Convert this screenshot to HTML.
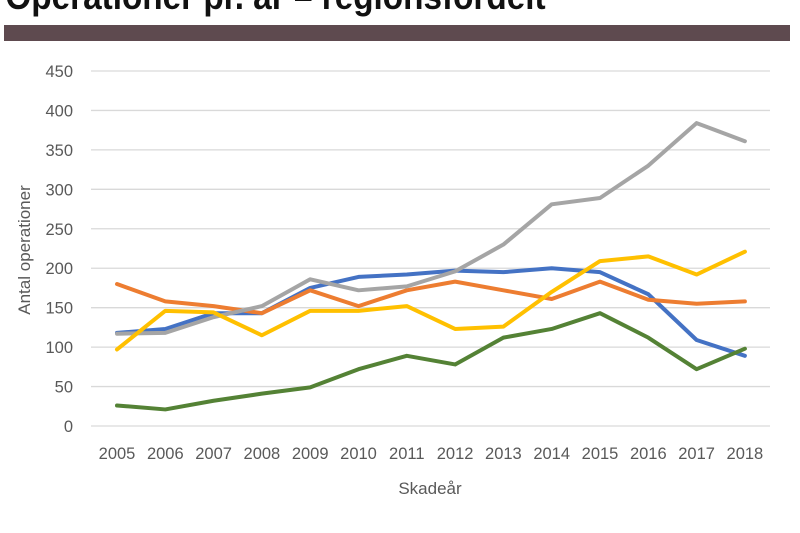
<!DOCTYPE html>
<html><head><meta charset="utf-8"><style>
body{margin:0;background:#fff;}
svg{display:block;font-family:"Liberation Sans",sans-serif;}
</style></head><body>
<svg id="s" width="800" height="533" viewBox="0 0 800 533">
<text x="6" y="9" font-size="37" font-weight="bold" fill="#111" transform="scale(0.9,1)" style="font-family:'Liberation Sans Narrow','Liberation Sans',sans-serif">Operationer pr. år – regionsfordelt</text>
<rect x="4" y="25" width="786" height="16" fill="#5e4a4f"/>
<g id="g"></g>
<text x="430" y="494" font-size="17" fill="#595959" text-anchor="middle">Skadeår</text>
<text transform="translate(30,250) rotate(-90)" font-size="17" fill="#595959" text-anchor="middle">Antal operationer</text>
</svg>
<script>
const g=document.getElementById('g');let h='';
const y0=426,per=(426-71)/450;
for(let v=0;v<=450;v+=50){const y=y0-v*per;h+=`<line x1="91" x2="770" y1="${y}" y2="${y}" stroke="#d9d9d9" stroke-width="1.3"/><text x="73" y="${y+6}" font-size="16.5" fill="#595959" text-anchor="end">${v}</text>`;}
const x=i=>117+i*48.3;
for(let i=0;i<14;i++)h+=`<text x="${x(i)}" y="459" font-size="16.5" fill="#595959" text-anchor="middle">${2005+i}</text>`;
const S=[
['#4472c4',[118,123,143,143,175,189,192,197,195,200,195,167,109,89]],
['#ed7d31',[180,158,152,143,172,152,172,183,172,161,183,160,155,158]],
['#a5a5a5',[117,118,138,152,186,172,177,196,230,281,289,330,384,361]],
['#ffc000',[97,146,144,115,146,146,152,123,126,170,209,215,192,221]],
['#548235',[26,21,32,41,49,72,89,78,112,123,143,112,72,98]]];
for(const [c,d] of S)h+=`<polyline fill="none" stroke="${c}" stroke-width="4" stroke-linejoin="round" stroke-linecap="round" points="${d.map((v,i)=>x(i)+','+(y0-v*per)).join(' ')}"/>`;
g.innerHTML=h;
</script>
</body></html>
